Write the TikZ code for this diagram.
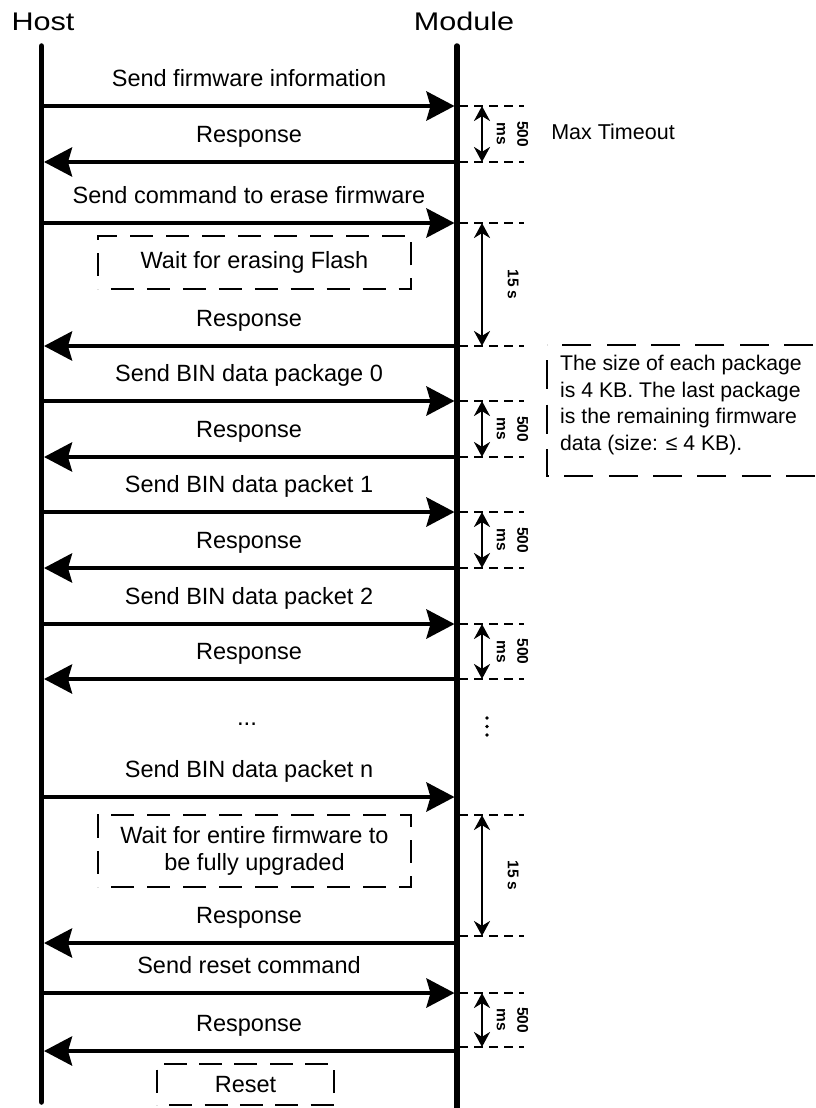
\documentclass[tikz,border=0pt]{standalone}
\usepackage{fontspec}
\setmainfont{Liberation Sans}
\usetikzlibrary{arrows.meta,decorations}

\begin{document}
\begin{tikzpicture}[x=1pt,y=-1pt,
  lifeline/.style={line width=5.5pt, line cap=round},
  msg/.style={line width=4.5pt, -{Stealth[length=28pt,width=29pt,inset=4pt]}},
  msglabel/.style={font=\fontsize{23.5}{28}\selectfont, inner sep=0pt, anchor=base},
  headlabel/.style={font=\fontsize{25.5}{30}\selectfont, inner sep=0pt, anchor=base},
  tline/.style={line width=2.5pt, dash pattern=on 9pt off 6pt},
  tarrow/.style={line width=2.5pt, {Stealth[length=15pt,width=16pt]}-{Stealth[length=15pt,width=16pt]}},
  tlabel/.style={font=\fontsize{15.5}{20.5}\selectfont\bfseries, rotate=-90, align=center, inner sep=0pt},
  waitbox/.style={draw, line width=2pt, dash pattern=on 23pt off 12pt, dash expand off, font=\fontsize{23.5}{27}\selectfont, align=center, inner sep=0pt},
  notebox/.style={line width=2pt, dash pattern=on 29pt off 14pt, dash expand off},
  notetext/.style={font=\fontsize{21.2}{26.5}\selectfont, align=left, inner sep=0pt, anchor=west},
  sidetext/.style={font=\fontsize{21.5}{26}\selectfont, inner sep=0pt}
]
\useasboundingbox (0,0) rectangle (816,1108);

% headers
\node[headlabel] (host) at (43,31) {\scalebox{1.2}[1]{Host}};
\node[headlabel] (module) at (464,31) {\scalebox{1.2}[1]{Module}};

% lifelines
\coordinate (htop) at (41.5,46);
\coordinate (hbot) at (41.5,1102);
\coordinate (mtop) at (457,46);
\coordinate (mbot) at (457,1114);
\draw[lifeline] (htop) -- (hbot);
\draw[lifeline] (mtop) -- (mbot);

% messages: index / arrow y / direction (1 = to module, 0 = to host) / label
\foreach \i/\y/\d/\t in {
  1/106/1/Send firmware information,
  2/162/0/Response,
  3/223/1/Send command to erase firmware,
  4/346/0/Response,
  5/401/1/Send BIN data package 0,
  6/457/0/Response,
  7/512/1/Send BIN data packet 1,
  8/568/0/Response,
  9/624/1/Send BIN data packet 2,
  10/679/0/Response,
  11/797/1/Send BIN data packet n,
  12/943/0/Response,
  13/993/1/Send reset command,
  14/1051/0/Response}{
  \coordinate (h\i) at (44,\y);
  \coordinate (m\i) at (454.5,\y);
  \node[msglabel] (t\i) at (249,\y-20) {\t};
  \ifnum\d=1
    \draw[msg] (h\i) -- (m\i);
  \else
    \draw[msg] (m\i) -- (h\i);
  \fi
}

% timeout markers: index / top y / bottom y / kind (1 = 500 ms, 0 = 15 s)
\foreach \j/\a/\b/\k in {1/106/162/1, 2/223/346/0, 3/401/457/1, 4/512/568/1,
                         5/624/679/1, 6/815/936/0, 7/993/1047/1}{
  \coordinate (ta\j) at (459,\a);
  \coordinate (te\j) at (524,\a);
  \coordinate (tb\j) at (459,\b);
  \coordinate (tf\j) at (524,\b);
  \coordinate (va\j) at (482,\a);
  \coordinate (vb\j) at (482,\b);
  \draw[tline] (ta\j) -- (te\j);
  \draw[tline] (tb\j) -- (tf\j);
  \draw[tarrow] (va\j) -- (vb\j);
  \ifnum\k=1
    \node[tlabel] (tl\j) at (512.5,{(\a+\b)/2}) {500\\ms};
  \else
    \node[tlabel] (tl\j) at (513,{(\a+\b)/2}) {15 s};
  \fi
}

\node[sidetext] (maxto) at (613,132) {Max Timeout};

% wait boxes
\node[waitbox, minimum width=313pt, minimum height=53pt] (wait1) at (254.5,262.5) {Wait for erasing Flash};
\node[waitbox, minimum width=313pt, minimum height=72pt] (wait2) at (254.5,851) {Wait for entire firmware to\\be fully upgraded};
\node[waitbox, minimum width=177pt, minimum height=41pt] (reset) at (245.5,1084.5) {Reset};

% note
\draw[notebox] (547,345) rectangle (845,476);
\node[notetext] (note) at (560,405) {The size of each package\\is 4 KB. The last package\\is the remaining firmware\\data (size: ≤ 4 KB).};

% ellipses
\node[font=\fontsize{24}{28}\selectfont, inner sep=0pt] (dots) at (247,724) {...};
\fill (487,718) circle (1.8);
\fill (487,726.5) circle (1.8);
\fill (487,735) circle (1.8);
\end{tikzpicture}
\end{document}
